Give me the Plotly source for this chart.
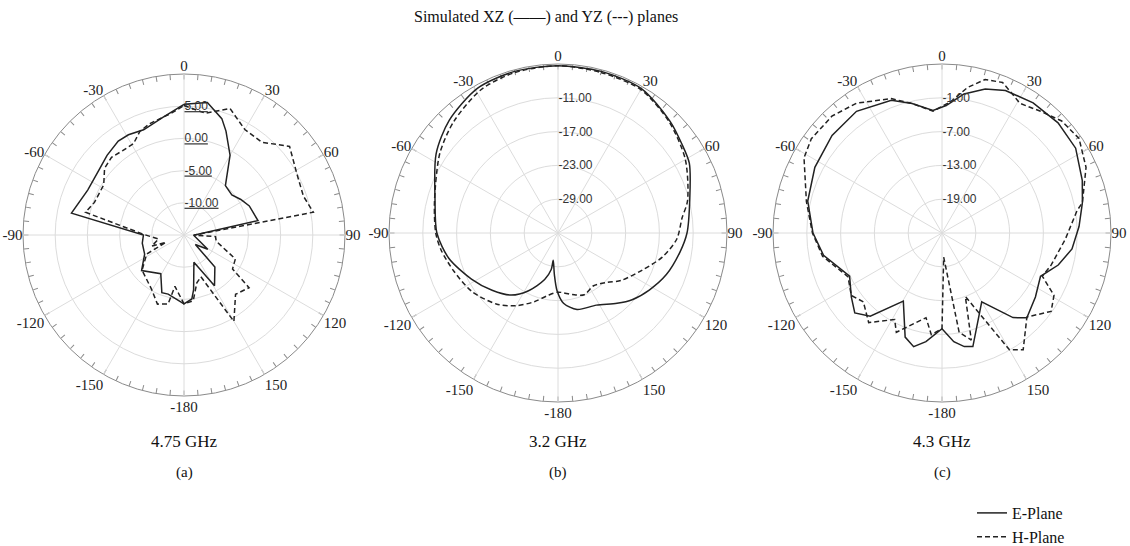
import plotly.graph_objects as go

W, H = 1130, 546

# ---------------- axis labels ----------------
ANG_VALS = list(range(0, 360, 30))
ANG_TEXT = ["0", "30", "60", "90", "120", "150", "-180", "-150", "-120", "-90", "-60", "-30"]
MINOR_VALS = list(range(0, 360, 5))

# ---------------- (a) 4.75 GHz ----------------
a_e_theta = [0, 10, 18, 22, 30, 40, 50, 58, 66, 79, 91, 121, 130, 136, 149, 160, 170, 173, 180,
             195, 201, 211, 230, 244, 259, 270, 281, 295, 307, 316, 325, 331, 339, 350, 360]
a_e_r = [5.3, 5.9, 4.0, 2.4, -0.7, -5.0, -5.3, -4.6, -3.9, -3.3, -13.5, -10.7, -12.7, -8.1, -5.8, -10.5, -6.4, -5.0, -4.3,
         -5.5, -5.4, -8.0, -6.4, -8.2, -8.4, -8.7, 2.8, 1.5, 1.6, 2.2, 2.8, 2.8, 2.5, 3.6, 5.3]
a_h_theta = [0, 10, 20, 30, 40, 50, 62, 72, 80, 91, 93, 101, 115, 125, 129, 139, 150, 158, 165, 172, 180,
             190, 193, 201, 211, 230, 243, 248, 251, 261, 271, 283, 290, 302, 310, 317, 324, 331, 337, 343, 354, 360]
a_h_r = [5.1, 4.2, 5.9, 3.9, 3.8, 6.4, 4.9, 4.5, 5.4, -13.5, -10.1, -9.9, -6.2, -5.8, -2.0, -2.8, 0.5, -8.0, -7.3, -4.7, -4.3,
         -6.9, -4.0, -3.5, -5.2, -6.5, -8.5, -12.0, -9.7, -11.0, -8.7, 0.7, -0.2, -0.3, 1.1, 1.5, 1.2, 1.2, 2.5, 3.1, 4.0, 5.1]
a_range = [-15, 10]
a_ticks = [-10, -5, 0, 5]
a_ticktext = ["<u>-10.00</u>", "<u>-5.00</u>", "<u>0.00</u>", "<u>5.00</u>"]

# ---------------- (b) 3.2 GHz ----------------
b_e_theta = [0, 15, 30, 45, 54, 62, 76, 90, 99, 111, 122, 132, 140, 152, 166, 175.5, 181, 185, 190,
             190.5, 196, 207, 217, 229, 242, 257, 270, 285, 303, 316, 331, 345, 360]
b_e_r = [-5.3, -5.3, -5.4, -6.9, -7.9, -8.6, -10.9, -12.1, -13.1, -14.4, -15.9, -17.3, -18.7, -20.5, -21.0, -22.5, -24.8, -27.6, -30.1,
         -28.4, -26.4, -23.5, -21.2, -19.5, -17.6, -15.1, -13.5, -12.4, -9.2, -7.2, -5.6, -5.3, -5.3]
b_h_theta = [0, 15, 30, 45, 60, 76, 83, 93, 103, 114, 127, 135, 146, 157, 167, 180, 189, 199, 210, 221,
             236, 250, 262, 270, 284, 304, 317, 332, 345, 360]
b_h_r = [-5.3, -5.5, -5.6, -7.1, -8.9, -11.3, -12.8, -13.9, -16.0, -18.7, -21.0, -22.6, -23.7, -23.1, -23.8, -24.5, -23.8, -22.1, -20.1, -18.3,
         -16.5, -15.3, -14.0, -13.3, -12.4, -9.7, -7.9, -6.1, -5.5, -5.3]
b_range = [-35, -5]
b_ticks = [-29, -23, -17, -11]
b_ticktext = ["-29.00", "-23.00", "-17.00", "-11.00"]

# ---------------- (c) 4.3 GHz ----------------
c_e_theta = [2.2, 9, 16.7, 24, 35, 46.5, 57.6, 69.4, 77.8, 87.3, 97, 105.4, 113.7, 124.4, 135, 140, 150, 164.8, 168.9,
             173.8, 180, 188.4, 194, 199.5, 209.6, 220.8, 227.5, 234.8, 245, 259.3, 270, 283.4, 297.3, 311.6, 324.9,
             339.1, 347, 355.8, 362.2]
c_e_r = [-2.3, 0.0, 1.7, 2.7, 3.2, 3.4, 3.1, 1.6, 0.5, -0.65, -1.75, -3.6, -5.9, -4.9, -3.7, -5.4, -10.9, -4.1, -4.45,
         -5.6, -8.0, -5.5, -4.2, -5.4, -11.1, -5.5, -4.0, -5.3, -6.9, -3.6, -2.1, -0.5, 0.4, 1.1, 1.4,
         0.2, -1.4, -3.2, -2.3]
c_h_theta = [3.6, 10, 15.7, 21.9, 26.2, 31, 39, 46.9, 55.4, 65.5, 77.8, 80.6, 93, 106.3, 113.3, 119.1, 125.7, 134.7,
             145.2, 150, 159.8, 164.7, 170.2, 176, 180, 186, 190.7, 204.7, 208.7, 219.3, 228.8, 235.5, 245, 259,
             270, 283, 298.6, 305.8, 316.7, 326.6, 339.3, 347, 355.8, 363.6]
c_h_r = [-1.7, 1.25, 3.3, 3.8, 2.8, 1.85, 2.8, 4.1, 4.55, 3.1, 0.5, -0.7, -3.1, -4.8, -5.6, -2.25, -1.15, -3.8,
         0.25, -1.05, -13.0, -5.3, -7.1, -20.7, -8.0, -6.85, -9.7, -5.6, -7.5, -4.45, -6.45, -5.45, -6.6, -3.4,
         -2.0, -0.3, 2.9, 3.6, 3.5, 2.6, 0.5, -1.4, -3.3, -1.7]
c_range = [-25, 5]
c_ticks = [-19, -13, -7, -1]
c_ticktext = ["-19.00", "-13.00", "-7.00", "-1.00"]

freq_labels = ["4.75 GHz", "3.2 GHz", "4.3 GHz"]
panel_tags = ["(a)", "(b)", "(c)"]
title_text = "Simulated XZ (\u2014\u2014) and YZ (---) planes"
legend_names = ["E-Plane", "H-Plane"]

SERIF = "Liberation Serif, Times New Roman, serif"
SANS = "Liberation Sans, Arial, sans-serif"
LINE_COLOR = "#222222"

panels = [
    dict(cx=184, cy=235, R=161, rng=a_range, tv=a_ticks, tt=a_ticktext, shape="linear",
         e=(a_e_theta, a_e_r), h=(a_h_theta, a_h_r)),
    dict(cx=558, cy=233, R=169, rng=b_range, tv=b_ticks, tt=b_ticktext, shape="spline",
         e=(b_e_theta, b_e_r), h=(b_h_theta, b_h_r)),
    dict(cx=942, cy=233, R=169, rng=c_range, tv=c_ticks, tt=c_ticktext, shape="linear",
         e=(c_e_theta, c_e_r), h=(c_h_theta, c_h_r)),
]

fig = go.Figure()
layout = dict(
    width=W, height=H,
    margin=dict(l=0, r=0, t=0, b=0, autoexpand=False),
    paper_bgcolor="white", plot_bgcolor="white",
    showlegend=True,
    legend=dict(x=972 / W, y=1 - 496 / H, xanchor="left", yanchor="top",
                font=dict(family=SERIF, size=16, color="#111"),
                bgcolor="rgba(0,0,0,0)", tracegroupgap=0, itemwidth=30),
    annotations=[],
)

n = len(panels)
for i, p in enumerate(panels):
    dom = dict(x=[(p["cx"] - p["R"]) / W, (p["cx"] + p["R"]) / W],
               y=[1 - (p["cy"] + p["R"]) / H, 1 - (p["cy"] - p["R"]) / H])
    tick_id = "polar" if i == 0 else f"polar{i + 1}"
    main_id = f"polar{i + 1 + n}"
    # underlying polar: outer circle with minor ticks
    layout[tick_id] = dict(
        domain=dom, bgcolor="white",
        angularaxis=dict(rotation=90, direction="clockwise", tickmode="array",
                         tickvals=MINOR_VALS, showticklabels=False, ticks="inside",
                         ticklen=5, tickcolor="#8a8a8a", showgrid=False,
                         showline=True, linecolor="#8a8a8a", linewidth=1),
        radialaxis=dict(visible=False, range=p["rng"]),
    )
    # main polar: grid, labels, data
    layout[main_id] = dict(
        domain=dom, bgcolor="rgba(0,0,0,0)",
        angularaxis=dict(rotation=90, direction="clockwise", tickmode="array",
                         tickvals=ANG_VALS, ticktext=ANG_TEXT, ticks="",
                         showgrid=True, gridcolor="#dcdcdc", gridwidth=1,
                         showline=False,
                         tickfont=dict(family=SERIF, size=15, color="#222")),
        radialaxis=dict(range=p["rng"], tickmode="array", tickvals=p["tv"], ticktext=p["tt"],
                        angle=90, tickangle=90, side="clockwise", showline=False, ticks="",
                        showgrid=True, gridcolor="#dcdcdc", gridwidth=1,
                        tickfont=dict(family=SANS, size=12, color="#333")),
    )
    fig.add_trace(go.Scatterpolar(r=[p["rng"][0]], theta=[0], mode="markers",
                                  marker=dict(opacity=0), subplot=tick_id,
                                  showlegend=False, hoverinfo="skip"))
    fig.add_trace(go.Scatterpolar(r=p["e"][1], theta=p["e"][0], mode="lines",
                                  line=dict(color=LINE_COLOR, width=1.5, shape=p["shape"],
                                            smoothing=0.8 if p["shape"] == "spline" else None),
                                  name=legend_names[0], legendgroup="e",
                                  showlegend=(i == 0), subplot=main_id))
    fig.add_trace(go.Scatterpolar(r=p["h"][1], theta=p["h"][0], mode="lines",
                                  line=dict(color=LINE_COLOR, width=1.5, dash="5px,3px", shape=p["shape"],
                                            smoothing=0.8 if p["shape"] == "spline" else None),
                                  name=legend_names[1], legendgroup="h",
                                  showlegend=(i == 0), subplot=main_id))
    layout["annotations"].append(dict(x=p["cx"] / W, y=1 - 441 / H, xref="paper", yref="paper",
                                      xanchor="center", yanchor="middle",
                                      text=freq_labels[i], showarrow=False,
                                      font=dict(family=SERIF, size=17, color="#111")))
    layout["annotations"].append(dict(x=p["cx"] / W, y=1 - 472 / H, xref="paper", yref="paper",
                                      xanchor="center", yanchor="middle",
                                      text=panel_tags[i], showarrow=False,
                                      font=dict(family=SERIF, size=15, color="#111")))

layout["annotations"].append(dict(x=546 / W, y=1 - 17 / H, xref="paper", yref="paper",
                                  xanchor="center", yanchor="middle",
                                  text=title_text, showarrow=False,
                                  font=dict(family=SERIF, size=16, color="#111")))

fig.update_layout(**layout)
fig.write_html("out.html")
